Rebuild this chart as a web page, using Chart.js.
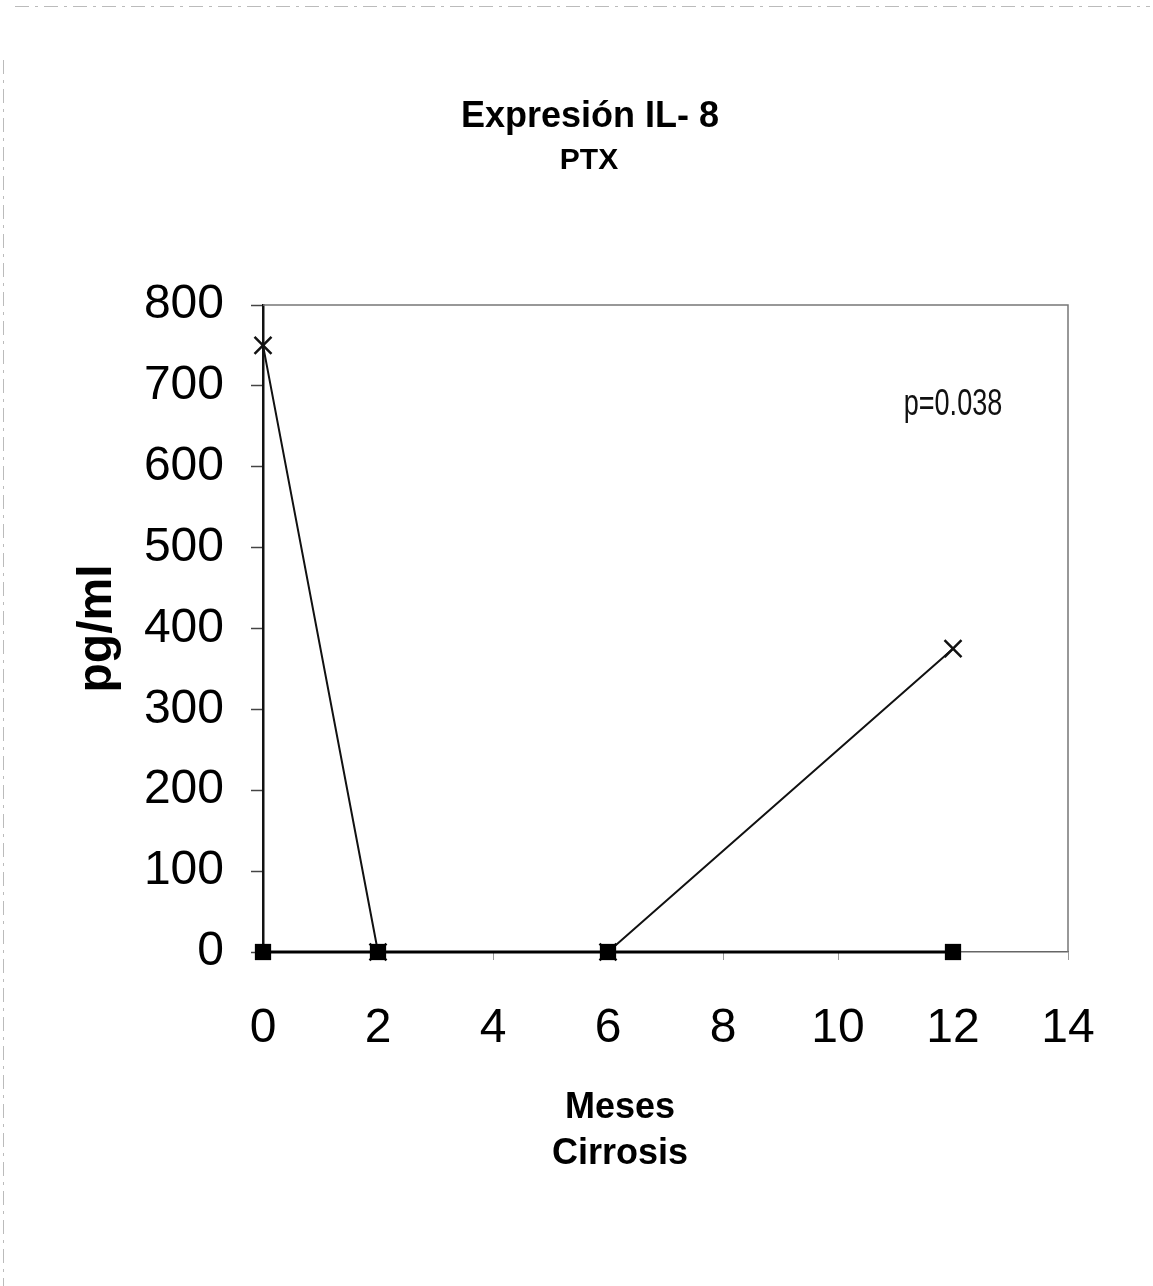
<!DOCTYPE html>
<html>
<head>
<meta charset="utf-8">
<script src="https://cdn.jsdelivr.net/npm/chart.js@4.4.1/dist/chart.umd.min.js"></script>
<style>
  html, body { margin: 0; padding: 0; background: #fff; }
  #wrap { width: 1153px; height: 1286px; }
</style>
</head>
<body>
<div id="wrap"><canvas id="il8Chart" width="1153" height="1286"></canvas></div>
<script>
// data
const meses = [0, 2, 6, 12];
const ptx = [750, 0, 0, 375];          // crosses
const cirrosis = [0, 0, 0, 0];         // filled squares
const xTicks = [0, 2, 4, 6, 8, 10, 12, 14];
const yTicks = [0, 100, 200, 300, 400, 500, 600, 700, 800];
const titulo = 'Expresión IL- 8';
const subtitulo = 'PTX';
const xTitulo = ['Meses', 'Cirrosis'];
const pValue = 'p=0.038';

const FONT = '"Liberation Sans", Arial, sans-serif';
const toPoints = (xs, ys) => xs.map((x, i) => ({ x: x, y: ys[i] }));

// frame round the plot, titles (off-centre in the scan), p value, scan edges
const extras = {
  id: 'extras',
  beforeDatasetsDraw(chart) {
    const { ctx, chartArea: a } = chart;
    ctx.save();
    ctx.strokeStyle = '#777';
    ctx.lineWidth = 1.5;
    ctx.beginPath();
    ctx.moveTo(a.left, a.top);
    ctx.lineTo(a.right, a.top);
    ctx.lineTo(a.right, a.bottom);
    ctx.stroke();
    ctx.restore();
  },
  afterDraw(chart) {
    const { ctx, scales } = chart;
    ctx.save();
    ctx.fillStyle = '#000';
    ctx.textAlign = 'center';
    ctx.textBaseline = 'alphabetic';
    ctx.font = 'bold 36px ' + FONT;
    ctx.fillText(titulo, 590, 127);
    ctx.font = 'bold 30px ' + FONT;
    ctx.fillText(subtitulo, 589, 169);
    ctx.font = 'bold 36px ' + FONT;
    xTitulo.forEach((t, i) => ctx.fillText(t, 620, 1118 + i * 46));

    ctx.fillStyle = '#111';
    ctx.font = '37px ' + FONT;
    ctx.translate(scales.x.getPixelForValue(12), 415);
    ctx.scale(0.73, 1);
    ctx.fillText(pValue, 0, 0);
    ctx.restore();

    ctx.save();
    ctx.strokeStyle = '#bbb';
    ctx.lineWidth = 1;
    ctx.setLineDash([14, 6, 3, 6]);
    ctx.beginPath();
    ctx.moveTo(15, 6.5);
    ctx.lineTo(1150, 6.5);
    ctx.moveTo(3.5, 60);
    ctx.lineTo(3.5, 1286);
    ctx.stroke();
    ctx.restore();
  }
};

const ctx = document.getElementById('il8Chart').getContext('2d');
new Chart(ctx, {
  type: 'line',
  data: {
    datasets: [{
      label: 'Cirrosis',
      data: toPoints(meses, cirrosis),
      borderColor: '#000',
      backgroundColor: '#000',
      borderWidth: 3,
      pointStyle: 'rect',
      pointRadius: 11.5,
      pointBorderWidth: 0,
      clip: false,
      order: 1
    }, {
      label: 'PTX',
      data: toPoints(meses, ptx),
      borderColor: '#111',
      backgroundColor: '#111',
      borderWidth: 2,
      pointStyle: 'crossRot',
      pointRadius: 12,
      pointBorderWidth: 2.5,
      clip: false,
      order: 2
    }]
  },
  options: {
    responsive: false,
    animation: false,
    layout: { padding: { left: 0, right: 85, top: 305, bottom: 0 } },
    scales: {
      x: {
        type: 'linear',
        min: 0,
        max: 14,
        afterFit: (scale) => { scale.height = 334; },
        afterBuildTicks: (scale) => { scale.ticks = xTicks.map(v => ({ value: v })); },
        ticks: {
          color: '#000',
          font: { family: FONT, size: 48 },
          padding: 40,
          maxRotation: 0
        },
        grid: { drawOnChartArea: false, drawTicks: true, tickLength: 8, color: '#999', tickWidth: 1 },
        border: { display: true, color: '#666', width: 1.5 }
      },
      y: {
        min: 0,
        max: 800,
        afterFit: (scale) => { scale.width = 263; },
        afterBuildTicks: (scale) => { scale.ticks = yTicks.map(v => ({ value: v })); },
        ticks: {
          color: '#000',
          font: { family: FONT, size: 48 },
          padding: 27
        },
        grid: { drawOnChartArea: false, drawTicks: true, tickLength: 12, color: '#444', tickWidth: 1.5 },
        border: { display: true, color: '#111', width: 2.5 },
        title: {
          display: true,
          text: 'pg/ml',
          color: '#000',
          font: { family: FONT, size: 48, weight: 'bold', lineHeight: 1.2 },
          padding: { top: 69, bottom: 0 }
        }
      }
    },
    plugins: {
      legend: { display: false },
      tooltip: { enabled: false },
      title: { display: false }
    }
  },
  plugins: [extras]
});
</script>
</body>
</html>
